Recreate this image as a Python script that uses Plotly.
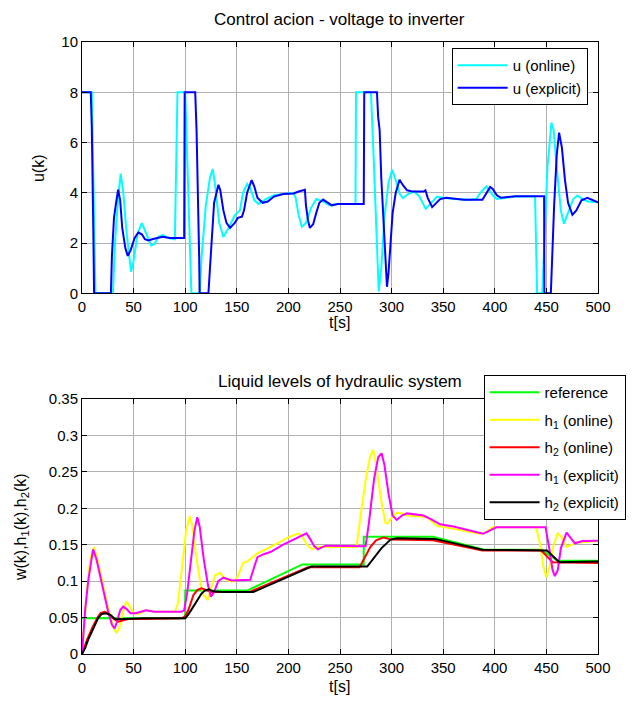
import plotly.graph_objects as go

# ---------------- data: top plot (control action) ----------------
t_u_online = [0, 9.5, 11, 13, 30, 32, 35, 37.5, 40, 43, 47.5, 50, 54, 58, 62, 67, 70, 74, 78, 84, 90, 91, 92.5,
              100, 102, 104, 106, 114, 116, 120, 124, 126.7, 129, 133, 137, 142, 148, 153, 156, 160, 163, 167,
              171, 178, 186, 195, 205, 207, 210, 213, 217, 222, 227, 234, 240, 247, 265, 265.5, 280, 283, 285.5,
              287.5, 290, 293, 297, 300.5, 304, 308, 311, 316, 322, 327, 333, 337, 344, 350, 360, 375, 382,
              386, 391.8, 394, 398, 402, 410, 420, 439, 440, 441, 446, 448, 451, 454.9, 457, 460, 464, 467,
              471, 476, 480, 485, 490, 500]
u_online = [8, 8, 4.5, 0, 0, 2, 3.8, 4.76, 4.0, 2.5, 0.86, 1.3, 2.4, 2.79, 2.4, 1.9, 1.95, 2.25, 2.32, 2.2, 2.15, 5, 8,
            8, 5, 2, 0, 0, 1.5, 3.5, 4.6, 4.94, 4.3, 2.8, 2.24, 2.6, 3.1, 3.3, 4.0, 4.35, 4.2, 3.7,
            3.55, 3.75, 3.9, 3.95, 4.0, 3.8, 3.1, 2.65, 2.8, 3.4, 3.75, 3.65, 3.5, 3.55, 3.55, 8, 8, 5, 2,
            0.07, 1.0, 3.0, 4.4, 4.92, 4.5, 3.95, 3.79, 3.95, 4.05, 3.85, 3.36, 3.55, 3.85, 3.8, 3.75, 3.72, 3.75,
            4.0, 4.25, 4.15, 3.9, 3.75, 3.8, 3.85, 3.85, 2, 0, 0, 2, 5, 6.79, 6.5, 5, 3.3, 2.77,
            3.2, 3.75, 3.89, 3.75, 3.65, 3.62]

t_u_explicit = [0, 8.5, 9.5, 10.5, 11, 11.7, 28, 29, 31, 33, 35, 37, 39, 42, 44.3, 47, 51, 54.6, 58, 61, 64.3, 68,
                72, 78, 85, 99, 99.5, 109.7, 111, 112.5, 113.5, 114, 122.5, 124, 126, 128, 132.2, 134, 137, 140,
                143.5, 148, 151, 155, 157, 160, 164.4, 167, 170, 175, 180, 186, 195, 205, 210, 216, 217, 219,
                220.8, 224, 227, 230, 233.6, 237, 242, 248, 273, 273.5, 285.8, 287, 288.4, 290, 292, 293.5, 295.5,
                297, 299, 301, 304, 307.7, 311, 315, 320, 326, 331, 332.8, 335, 339.3, 343, 347, 353, 360, 370,
                388, 392, 395.5, 398, 402, 406, 412, 420, 447.8, 448, 454.3, 455.5, 457.5, 460, 462.3, 465, 468,
                471, 475.2, 479, 484, 489.7, 495, 500]
u_explicit = [8, 8, 6.6, 4.5, 2.4, 0, 0, 1.5, 3.0, 3.6, 4.12, 3.7, 2.6, 1.8, 1.49, 1.7, 2.2, 2.42, 2.35, 2.15, 2.1, 2.15,
              2.2, 2.25, 2.2, 2.2, 8, 8, 6.5, 4.0, 1.5, 0, 0, 1.0, 2.5, 3.6, 4.32, 4.1, 3.3, 2.8,
              2.6, 2.8, 3.0, 3.05, 3.3, 4.0, 4.5, 4.25, 3.8, 3.6, 3.65, 3.85, 3.95, 3.97, 4.05, 4.12, 3.5, 2.9,
              2.6, 2.75, 3.2, 3.6, 3.73, 3.65, 3.5, 3.55, 3.55, 8, 8, 7.0, 6.5, 4.6, 3.0, 1.5, 0.26,
              0.8, 2.0, 3.2, 4.0, 4.52, 4.3, 4.1, 4.05, 4.05, 4.05, 4.1, 3.8, 3.43, 3.6, 3.75, 3.8, 3.77, 3.72,
              3.72, 4.0, 4.23, 4.15, 3.9, 3.8, 3.82, 3.86, 3.86, 0, 0, 1.5, 3.5, 5.5, 6.39, 5.8, 4.5,
              3.6, 3.12, 3.3, 3.7, 3.8, 3.7, 3.62]

# ---------------- data: bottom plot (liquid levels) ----------------
t_ref = [0, 100, 100, 160, 213.5, 273, 273, 340, 390, 445, 461, 500]
w_ref = [0.049, 0.049, 0.087, 0.087, 0.123, 0.123, 0.161, 0.161, 0.143, 0.143, 0.128, 0.128]

t_h1_online = [0, 2, 5, 8, 11.7, 15, 20, 25, 30, 33.3, 36, 39, 43, 46, 50, 55, 62, 70, 90, 93, 97, 101, 104.5,
               107, 111, 115, 118, 121.7, 125, 129, 133.7, 138, 143, 148, 152, 156, 160, 170, 180, 190, 200,
               210, 214, 218, 223, 228, 266, 270, 275, 279, 282.2, 285, 290, 294, 296, 300.7, 305, 310, 315,
               334, 340, 344, 360, 375, 385, 390, 398, 440, 444, 447, 450, 453, 457, 461, 465, 469.5, 474,
               479, 490, 500]
h1_online = [0, 0.04, 0.09, 0.13, 0.147, 0.13, 0.095, 0.065, 0.038, 0.029, 0.035, 0.055, 0.0718, 0.066, 0.056, 0.055,
             0.06, 0.058, 0.058, 0.07, 0.12, 0.17, 0.189, 0.175, 0.13, 0.095, 0.08, 0.075, 0.09, 0.108, 0.1116,
             0.104, 0.1, 0.1, 0.11, 0.125, 0.127, 0.138, 0.145, 0.153, 0.16, 0.1656, 0.16, 0.15, 0.1437, 0.147,
             0.147, 0.19, 0.24, 0.27, 0.28, 0.26, 0.21, 0.18, 0.179, 0.188, 0.194, 0.193, 0.19, 0.188, 0.18,
             0.176, 0.172, 0.168, 0.165, 0.166, 0.174, 0.174, 0.15, 0.12, 0.105, 0.12, 0.15, 0.1656, 0.16,
             0.147, 0.15, 0.1528, 0.154, 0.155]

t_h2_online = [0, 5, 10, 15, 18, 22, 26, 30, 35, 40, 45, 60, 97, 100, 103, 108, 112, 115.8, 120, 125.5, 162,
               219, 269, 273, 279.5, 285, 292.4, 300, 340, 388, 445, 456, 500]
h2_online = [0, 0.02, 0.036, 0.05, 0.056, 0.058, 0.055, 0.049, 0.0443, 0.046, 0.048, 0.048, 0.049, 0.052, 0.06,
             0.081, 0.088, 0.09, 0.088, 0.085, 0.085, 0.119, 0.119, 0.129, 0.147, 0.156, 0.16, 0.157, 0.156,
             0.142, 0.142, 0.126, 0.125]

t_h1_explicit = [0, 3, 6, 10.7, 14, 20, 25, 29, 31.7, 34, 37, 39.8, 43, 47, 52, 62, 70, 96.5, 99, 102, 106, 109,
                 111.7, 114, 118, 122, 124.9, 128, 132, 137, 145, 155, 163, 167, 170, 176, 182.5, 195, 205,
                 217.5, 221, 225, 228.5, 236, 274.8, 278, 283, 287, 290.3, 293, 297, 301, 305, 310, 315, 331,
                 338, 342, 347, 360, 375, 388.6, 393, 401.5, 449.2, 451, 453, 456, 458.2, 461, 464, 469.5, 473,
                 477.6, 485, 500]
h1_explicit = [0, 0.06, 0.1, 0.1437, 0.13, 0.09, 0.06, 0.04, 0.035, 0.045, 0.06, 0.065, 0.062, 0.056, 0.056, 0.06,
               0.058, 0.058, 0.06, 0.085, 0.13, 0.17, 0.1876, 0.175, 0.13, 0.095, 0.0787, 0.085, 0.1, 0.105,
               0.101, 0.101, 0.102, 0.12, 0.133, 0.137, 0.14, 0.15, 0.157, 0.1656, 0.158, 0.148, 0.1437, 0.1487,
               0.148, 0.18, 0.24, 0.27, 0.2754, 0.26, 0.22, 0.19, 0.184, 0.19, 0.193, 0.19, 0.185, 0.1816, 0.178,
               0.175, 0.17, 0.165, 0.168, 0.174, 0.174, 0.16, 0.143, 0.115, 0.107, 0.115, 0.145, 0.1666, 0.16,
               0.152, 0.155, 0.1556]

t_h2_explicit = [0, 3, 5.8, 10.7, 15.5, 19, 23.6, 28, 32, 35, 45, 60, 100, 102.9, 107, 111, 115.8, 119, 122.9,
                 127, 135, 166, 222.3, 276.4, 282, 290, 299, 305, 342, 388, 450.5, 462.6, 500]
h2_explicit = [0, 0.008, 0.019, 0.033, 0.049, 0.055, 0.0558, 0.053, 0.048, 0.0476, 0.048, 0.049, 0.049, 0.054,
               0.063, 0.073, 0.083, 0.087, 0.0888, 0.086, 0.085, 0.085, 0.12, 0.12, 0.13, 0.145, 0.157, 0.159,
               0.158, 0.143, 0.142, 0.126, 0.127]

x_ticks = list(range(0, 501, 50))
u_ticks = [0, 2, 4, 6, 8, 10]
h_ticks = [0, 0.05, 0.1, 0.15, 0.2, 0.25, 0.3, 0.35]

FONT = "Arial, Liberation Sans, sans-serif"

fig = go.Figure()
fig.add_trace(go.Scatter(x=t_u_online, y=u_online, mode="lines", name="u (online)", legendgroup="a",
                         line=dict(color="#00FFFF", width=2), xaxis="x", yaxis="y", legend="legend"))
fig.add_trace(go.Scatter(x=t_u_explicit, y=u_explicit, mode="lines", name="u (explicit)", legendgroup="b",
                         line=dict(color="#0000FF", width=2), xaxis="x", yaxis="y", legend="legend"))

fig.add_trace(go.Scatter(x=t_ref, y=w_ref, mode="lines", name="reference", legendgroup="c",
                         line=dict(color="#00FF00", width=2), xaxis="x2", yaxis="y2", legend="legend2"))
fig.add_trace(go.Scatter(x=t_h1_online, y=h1_online, mode="lines", name="h<sub>1</sub> (online)", legendgroup="d",
                         line=dict(color="#FFFF00", width=2), xaxis="x2", yaxis="y2", legend="legend2"))
fig.add_trace(go.Scatter(x=t_h2_online, y=h2_online, mode="lines", name="h<sub>2</sub> (online)", legendgroup="e",
                         line=dict(color="#FF0000", width=2), xaxis="x2", yaxis="y2", legend="legend2"))
fig.add_trace(go.Scatter(x=t_h1_explicit, y=h1_explicit, mode="lines", name="h<sub>1</sub> (explicit)", legendgroup="f",
                         line=dict(color="#FF00FF", width=2), xaxis="x2", yaxis="y2", legend="legend2"))
fig.add_trace(go.Scatter(x=t_h2_explicit, y=h2_explicit, mode="lines", name="h<sub>2</sub> (explicit)", legendgroup="g",
                         line=dict(color="#000000", width=2), xaxis="x2", yaxis="y2", legend="legend2"))

W, H = 633, 702
L, R, T, B = 82, 34.5, 42, 48
PW = W - L - R
PH = H - T - B

def px_x(px):
    return (px - L) / PW

def px_y(py):
    return (H - B - py) / PH

axis_common = dict(showline=True, linecolor="black", linewidth=1, mirror="ticks",
                   ticks="inside", ticklen=5, tickcolor="black",
                   showgrid=True, gridcolor="#b0b0b0", gridwidth=1, zeroline=False,
                   tickfont=dict(family=FONT, size=15, color="black"))

fig.update_layout(
    width=W, height=H,
    margin=dict(l=L, r=R, t=T, b=B, autoexpand=False),
    paper_bgcolor="white", plot_bgcolor="white",
    font=dict(family=FONT, size=15, color="black"),
    xaxis=dict(domain=[0, 1], anchor="y", range=[0, 500], tickvals=x_ticks, **axis_common),
    yaxis=dict(domain=[px_y(293.3), 1], anchor="x", range=[0, 10], tickvals=u_ticks, **axis_common),
    xaxis2=dict(domain=[0, 1], anchor="y2", range=[0, 500], tickvals=x_ticks, **axis_common),
    yaxis2=dict(domain=[0, px_y(399)], anchor="x2", range=[0, 0.35], tickvals=h_ticks, **axis_common),
    legend=dict(x=px_x(452), y=px_y(48), xanchor="left", yanchor="top", itemwidth=50,
                bgcolor="white", bordercolor="black", borderwidth=1, tracegroupgap=0,
                font=dict(family=FONT, size=15, color="black")),
    legend2=dict(x=px_x(484), y=px_y(375), xanchor="left", yanchor="top", itemwidth=50,
                 bgcolor="white", bordercolor="black", borderwidth=1, tracegroupgap=5,
                 font=dict(family=FONT, size=15, color="black")),
    showlegend=True,
)

ann_font = dict(family=FONT, size=17, color="black")
fig.add_annotation(text="Control acion - voltage to inverter", xref="paper", yref="paper",
                   x=px_x(340), y=px_y(20), showarrow=False, font=ann_font, xanchor="center", yanchor="middle")
fig.add_annotation(text="Liquid levels of hydraulic system", xref="paper", yref="paper",
                   x=px_x(340), y=px_y(381), showarrow=False, font=ann_font, xanchor="center", yanchor="middle")
lab_font = dict(family=FONT, size=16, color="black")
fig.add_annotation(text="t[s]", xref="paper", yref="paper", x=px_x(340), y=px_y(322),
                   showarrow=False, font=lab_font, xanchor="center", yanchor="middle")
fig.add_annotation(text="t[s]", xref="paper", yref="paper", x=px_x(340), y=px_y(686),
                   showarrow=False, font=lab_font, xanchor="center", yanchor="middle")
fig.add_annotation(text="u(k)", xref="paper", yref="paper", x=px_x(38), y=px_y(168),
                   showarrow=False, font=lab_font, textangle=-90, xanchor="center", yanchor="middle")
fig.add_annotation(text="w(k),h<sub>1</sub>(k),h<sub>2</sub>(k)", xref="paper", yref="paper",
                   x=px_x(21), y=px_y(527), showarrow=False, font=lab_font, textangle=-90,
                   xanchor="center", yanchor="middle")

fig.write_html("out.html", config={"displayModeBar": False},
               post_script="document.body.style.margin='0px';")
